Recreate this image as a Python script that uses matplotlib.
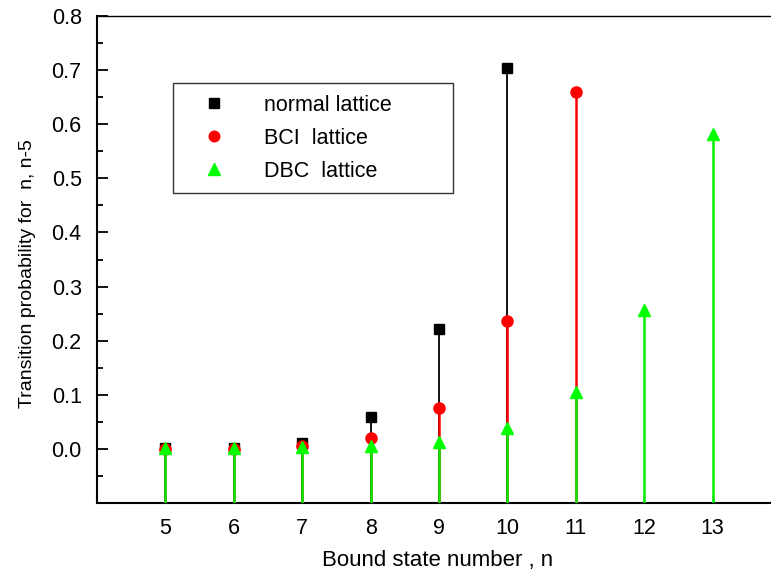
import matplotlib
matplotlib.use('Agg')
import matplotlib.pyplot as plt
from matplotlib.ticker import MultipleLocator, FormatStrFormatter

plt.rcParams['font.family'] = ['Liberation Sans', 'DejaVu Sans']

# transition probabilities for n -> n-5
n_normal = [5, 6, 7, 8, 9, 10]
p_normal = [0.001, 0.001, 0.011, 0.059, 0.221, 0.704]
n_bci = [5, 6, 7, 8, 9, 10, 11]
p_bci = [0.0, 0.0, 0.006, 0.020, 0.075, 0.237, 0.660]
n_dbc = [5, 6, 7, 8, 9, 10, 11, 12, 13]
p_dbc = [0.002, 0.002, 0.003, 0.005, 0.013, 0.038, 0.105, 0.256, 0.582]
xticks = [5, 6, 7, 8, 9, 10, 11, 12, 13]
BASE = -0.1

fig = plt.figure(figsize=(7.71, 5.76), dpi=100)
ax = fig.add_axes([97 / 771, 73 / 576, 684 / 771, 487 / 576])

ax.vlines(n_normal, BASE, p_normal, color='black', lw=1.3, zorder=2)
ax.plot(n_normal, p_normal, 's', color='black', ms=7.5, ls='none',
        label='normal lattice', zorder=3)
ax.vlines(n_bci, BASE, p_bci, color='#ff0000', lw=1.8, zorder=4)
ax.plot(n_bci, p_bci, 'o', color='#ff0000', ms=8, ls='none',
        label='BCI  lattice', zorder=5)
ax.vlines(n_dbc, BASE, p_dbc, color='#00ee00', lw=1.8, zorder=6)
ax.plot(n_dbc, p_dbc, '^', color='#00ff00', ms=9, ls='none',
        label='DBC  lattice', zorder=7)

ax.set_xlim(4, 14)
ax.set_ylim(-0.1, 0.8)
ax.set_xticks(xticks)
ax.yaxis.set_major_locator(MultipleLocator(0.1))
ax.yaxis.set_minor_locator(MultipleLocator(0.05))
ax.yaxis.set_major_formatter(FormatStrFormatter('%.1f'))
ax.set_yticks([i / 10 for i in range(0, 9)])

ax.tick_params(axis='y', which='major', direction='in', length=8, width=1.3,
               labelsize=15.5, pad=11)
ax.tick_params(axis='y', which='minor', direction='in', length=4.5, width=1.3)
ax.tick_params(axis='x', which='major', direction='in', length=6, width=1,
               labelsize=15.5, pad=11)
ax.spines['right'].set_visible(False)
ax.spines['left'].set_linewidth(1.5)
ax.spines['bottom'].set_linewidth(1.5)
ax.spines['top'].set_linewidth(1.0)

ax.set_xlabel('Bound state number , n', fontsize=16)
ax.xaxis.set_label_coords(0.4985, -0.119)
ax.xaxis.label.set_verticalalignment('center')
ax.set_ylabel('Transition probability for  n, n-5', fontsize=14)
ax.yaxis.set_label_coords(-0.102, 0.472)
ax.yaxis.label.set_verticalalignment('center')

leg = ax.legend(loc='upper left', mode='expand',
                bbox_to_anchor=(76 / 684, 315 / 487, 280 / 684, 105 / 487),
                borderaxespad=0, fontsize=15.5, frameon=True, fancybox=False,
                edgecolor='black', borderpad=0.55, handlelength=2.7,
                handletextpad=1.0, labelspacing=0.55, markerscale=0.95)
leg.get_frame().set_linewidth(1.0)

fig.savefig('out.png', dpi=100)
